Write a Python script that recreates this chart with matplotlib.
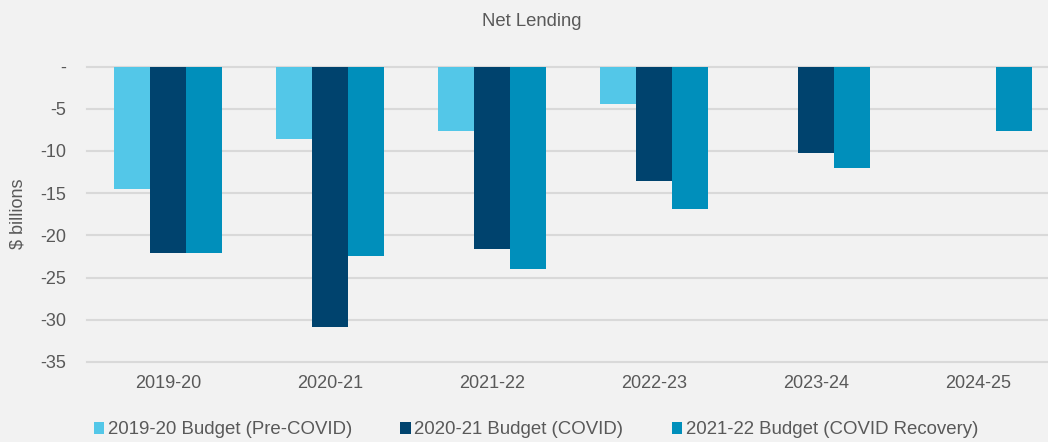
import matplotlib
matplotlib.use("Agg")
import matplotlib.pyplot as plt
import numpy as np

categories = ["2019-20", "2020-21", "2021-22", "2022-23", "2023-24", "2024-25"]
series_names = ["2019-20 Budget (Pre-COVID)", "2020-21 Budget (COVID)", "2021-22 Budget (COVID Recovery)"]
pre_covid = [-14.5, -8.6, -7.6, -4.4, np.nan, np.nan]
covid = [-22.1, -30.9, -21.6, -13.6, -10.2, np.nan]
recovery = [-22.1, -22.4, -24.0, -16.9, -12.0, -7.65]
yticks = [0, -5, -10, -15, -20, -25, -30, -35]
ytick_labels = ["-", "-5", "-10", "-15", "-20", "-25", "-30", "-35"]
colors = ["#53C7E8", "#00436E", "#008FBB"]

plt.rcParams['font.family'] = ['Liberation Sans', 'DejaVu Sans']
W, H = 1048, 442
fig = plt.figure(figsize=(W / 100, H / 100), dpi=100, facecolor="#F2F2F2")
left, right, bottom, top = 87, 1059, 362, 66.5
ax = fig.add_axes([left / W, 1 - bottom / H, (right - left) / W, (bottom - top) / H])
ax.set_facecolor("#F2F2F2")

x = np.arange(len(categories))
bw = 0.223
for i, (vals, c, name) in enumerate(zip([pre_covid, covid, recovery], colors, series_names)):
    ax.bar(x + (i - 1) * bw, vals, width=bw, color=c, label=name, zorder=3)

ax.set_xlim(-0.5, len(categories) - 0.5)
ax.set_ylim(-35, 0)
ax.set_yticks(yticks)
ax.set_yticklabels(ytick_labels)
ax.set_xticks(x)
ax.set_xticklabels(categories)
ax.tick_params(axis='both', length=0, labelsize=13, labelcolor="#595959")
ax.tick_params(axis='y', pad=15)
ax.tick_params(axis='x', pad=9)
ax.yaxis.grid(True, color="#D9D9D9", linewidth=1.5, zorder=0)
for gl in ax.get_ygridlines():
    gl.set_clip_on(False)
for s in ax.spines.values():
    s.set_visible(False)

fig.text(531.5 / W, 1 - 21 / H, "Net Lending", ha='center', va='center', fontsize=13.3, color="#595959")
fig.text(18 / W, 1 - 214 / H, "$ billions", ha='center', va='center', rotation=90, fontsize=13, color="#595959")

handles, labels = ax.get_legend_handles_labels()
fig.legend(handles, labels, loc='center', bbox_to_anchor=(536 / W, 1 - 430 / H), ncol=3, frameon=False,
           fontsize=13.4, labelcolor="#595959", handlelength=0.55, handleheight=0.55, handletextpad=0.2,
           columnspacing=2.6)

fig.savefig("out.png", dpi=100, facecolor=fig.get_facecolor())
